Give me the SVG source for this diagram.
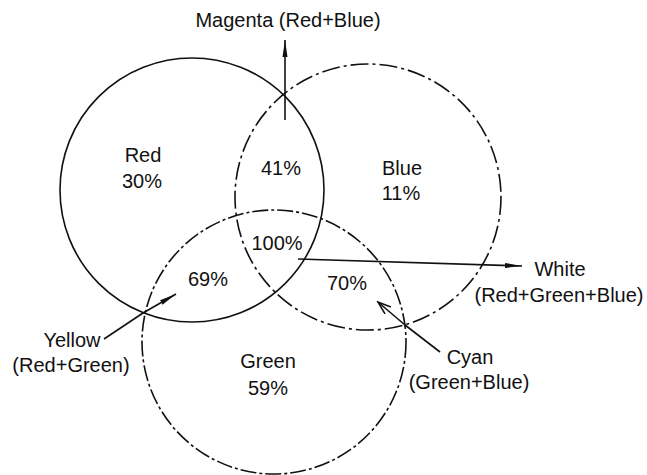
<svg xmlns="http://www.w3.org/2000/svg" width="647" height="475" viewBox="0 0 647 475">
  <style>
    .bg { fill: #ffffff; }
    .circ { fill: none; stroke: #111; stroke-width: 1.6; }
    .red { }
    .blue { stroke-dasharray: 18 4 3 4; }
    .green { stroke-dasharray: 16 3 3 3; }
    .lbl { font-family: "Liberation Sans", Arial, sans-serif; font-size: 20px; fill: #111; text-anchor: middle; }
    .conn { stroke: #111; stroke-width: 1.6; fill: none; }
  </style>
  <defs>
    <marker id="ahFill" markerUnits="userSpaceOnUse" markerWidth="18" markerHeight="8" refX="17" refY="3" orient="auto">
      <path d="M0,0.5 L17,3 L0,5.5 z" fill="#111"/>
    </marker>
    <marker id="ahOpen" markerUnits="userSpaceOnUse" markerWidth="16" markerHeight="12" refX="14" refY="5" orient="auto">
      <path d="M1,0.5 L14,5 L1,9.5" fill="none" stroke="#111" stroke-width="1.6"/>
    </marker>
  </defs>
  <rect class="bg" x="0" y="0" width="647" height="475"/>

  <g id="red">
    <circle class="circ red" cx="192" cy="190" r="132"/>
    <text class="lbl" x="143" y="162">Red</text>
    <text class="lbl" x="142" y="188">30%</text>
  </g>
  <g id="blue">
    <circle class="circ blue" cx="368" cy="197" r="133"/>
    <text class="lbl" x="402" y="175">Blue</text>
    <text class="lbl" x="401" y="200">11%</text>
  </g>
  <g id="green">
    <circle class="circ green" cx="274" cy="342" r="132"/>
    <text class="lbl" x="268" y="368">Green</text>
    <text class="lbl" x="268" y="395">59%</text>
  </g>
  <g id="red-blue">
    <text class="lbl" x="281" y="175">41%</text>
  </g>
  <g id="red-green">
    <text class="lbl" x="208" y="286">69%</text>
  </g>
  <g id="green-blue">
    <text class="lbl" x="347" y="290">70%</text>
  </g>
  <g id="all">
    <text class="lbl" x="277" y="250">100%</text>
  </g>

  <g id="connectors">
    <line class="conn" x1="285" y1="120" x2="285" y2="40" marker-end="url(#ahFill)"/>
    <line class="conn" x1="298" y1="259" x2="522" y2="266" marker-end="url(#ahFill)"/>
    <line class="conn" x1="143" y1="313" x2="176" y2="294" marker-end="url(#ahFill)"/>
    <line class="conn" x1="143" y1="313" x2="104" y2="339"/>
    <line class="conn" x1="405" y1="325" x2="378" y2="302" marker-end="url(#ahOpen)"/>
    <line class="conn" x1="405" y1="325" x2="440" y2="352"/>
  </g>

  <g id="magenta-label">
    <text class="lbl" x="288" y="27">Magenta (Red+Blue)</text>
  </g>
  <g id="white-label">
    <text class="lbl" x="560" y="276">White</text>
    <text class="lbl" x="559" y="302">(Red+Green+Blue)</text>
  </g>
  <g id="yellow-label">
    <text class="lbl" x="72" y="347">Yellow</text>
    <text class="lbl" x="71" y="372">(Red+Green)</text>
  </g>
  <g id="cyan-label">
    <text class="lbl" x="470" y="364">Cyan</text>
    <text class="lbl" x="469" y="389">(Green+Blue)</text>
  </g>
</svg>
